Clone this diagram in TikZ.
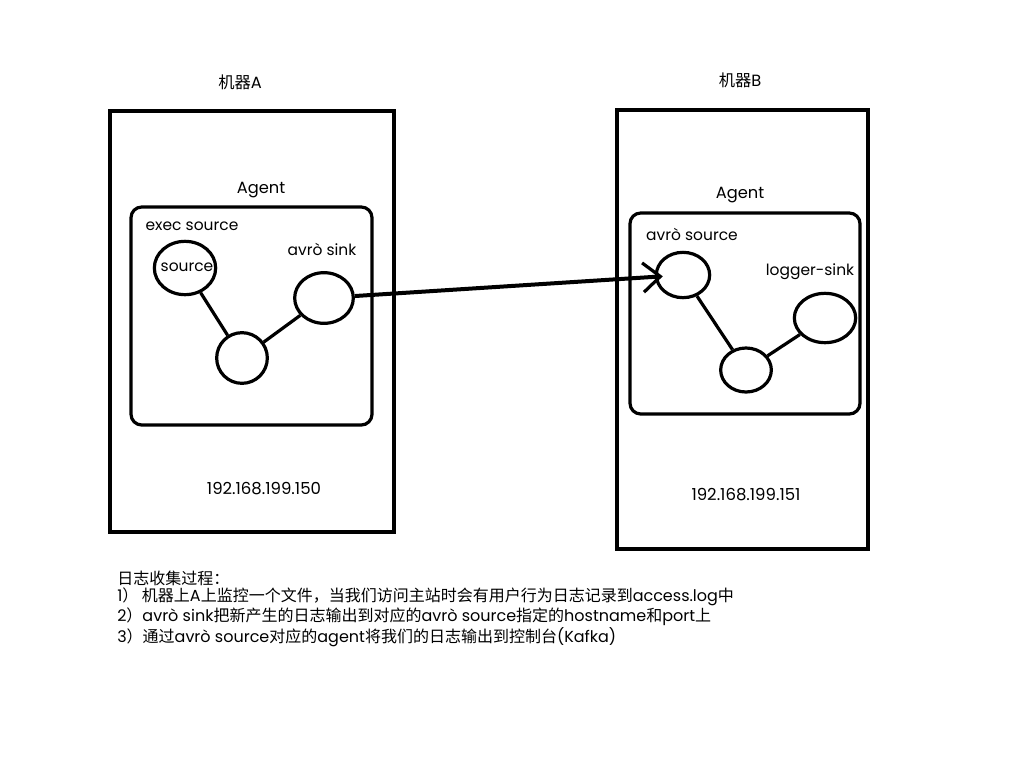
\documentclass[tikz,border=0pt]{standalone}
\usepackage{fontspec}
\setmainfont{Poppins}
\newfontfamily\cjk{Noto Sans CJK SC}
\newcommand{\zh}[1]{{\cjk #1}}
\usetikzlibrary{shapes.geometric, arrows.meta}

\begin{document}
\begin{tikzpicture}[
  x=0.75pt, y=-0.75pt,
  machine/.style={rectangle, draw, line width=2.4pt, inner sep=0pt},
  agent/.style={rectangle, draw, line width=2.4pt, rounded corners=8pt, inner sep=0pt},
  comp/.style={ellipse, draw, line width=2.4pt, inner sep=0pt},
  link/.style={line width=2.4pt},
  flow/.style={-{Straight Barb[length=13pt, width=22pt, line width=2.4pt]}, line width=3pt, shorten >=-6pt},
  lbl/.style={font=\fontsize{11.6}{13}\selectfont},
  title/.style={font=\fontsize{12.2}{14}\selectfont},
  note/.style={font=\fontsize{12}{14}\selectfont, anchor=west, inner sep=0pt}
]
\useasboundingbox (0,0) rectangle (1024,768);

% machine A
\node[title] (nameA) at (240,82) {\zh{机器}A};
\node[machine, minimum width=213pt, minimum height=315.75pt] (boxA) at (252,321.5) {};
\node[title] (agentlblA) at (261,190) {Agent};
\node[agent, minimum width=180.75pt, minimum height=163.5pt] (agentA) at (251.5,316) {};
\node[lbl] (execlbl) at (192,226) {exec source};
\node[comp, minimum width=46pt, minimum height=40pt] (srcA) at (185,268) {};
\node[lbl] (srclbl) at (187,267) {source};
\node[comp, minimum width=38pt, minimum height=38pt] (midA) at (242,358) {};
\node[lbl] (sinklbl) at (322,249) {avrò sink};
\node[comp, minimum width=44pt, minimum height=38pt] (sinkA) at (324,298) {};
\node[lbl, font=\fontsize{12.4}{14}\selectfont] (ipA) at (264,489) {192.168.199.150};

% machine B
\node[title] (nameB) at (740,80) {\zh{机器}B};
\node[machine, minimum width=188.25pt, minimum height=329.25pt] (boxB) at (742.5,329.5) {};
\node[title] (agentlblB) at (740,195) {Agent};
\node[agent, minimum width=172.5pt, minimum height=150.75pt] (agentB) at (745,313.5) {};
\node[lbl] (avrolbl) at (692,234) {avrò source};
\node[comp, minimum width=40pt, minimum height=34pt] (srcB) at (683,275) {};
\node[lbl] (loglbl) at (810,272) {logger-sink};
\node[comp, minimum width=46pt, minimum height=37pt] (logB) at (825,318) {};
\node[comp, minimum width=38pt, minimum height=33pt] (midB) at (746,370) {};
\node[lbl, font=\fontsize{12.4}{14}\selectfont] (ipB) at (746,495) {192.168.199.151};

\draw[link] (srcA) -- (midA);
\draw[link] (midA) -- (sinkA);
\draw[link] (srcB) -- (midB);
\draw[link] (midB) -- (logB);
\draw[flow] (sinkA) -- (srcB);

% notes
\node[note] (n0) at (117,578) {\zh{日志收集过程：}};
\node[note] (n1) at (117,597) {1\zh{）\ 机器上}A\zh{上监控一个文件，当我们访问主站时会有用户行为日志记录到}access.log\zh{中}};
\node[note] (n2) at (117,617) {2\zh{）}avrò sink\zh{把新产生的日志输出到对应的}avrò source\zh{指定的}hostname\zh{和}port\zh{上}};
\node[note] (n3) at (117,637) {3\zh{）通过}avrò source\zh{对应的}agent\zh{将我们的日志输出到控制台}(Kafka)};
\end{tikzpicture}
\end{document}
